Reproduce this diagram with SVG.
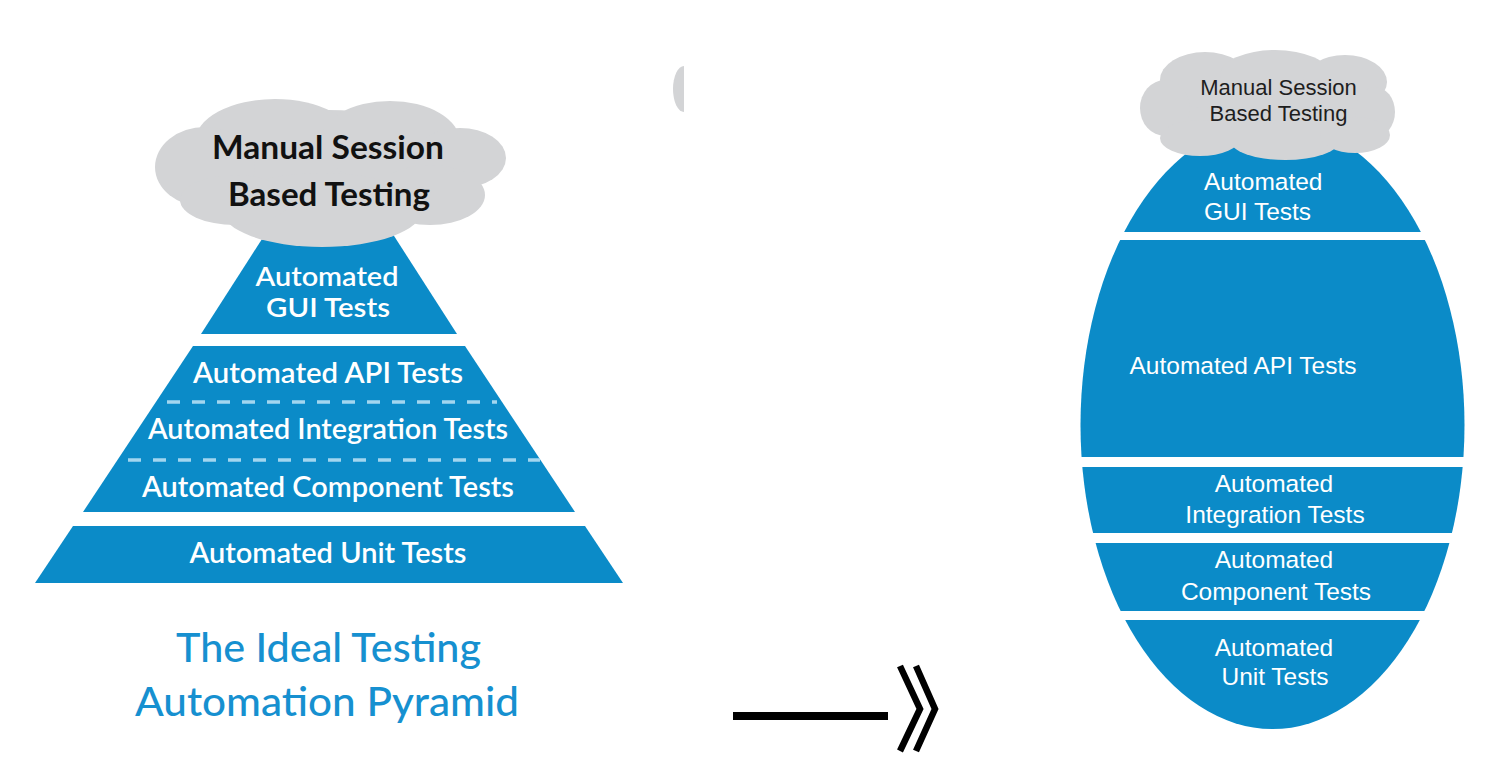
<svg xmlns="http://www.w3.org/2000/svg" width="1494" height="776" viewBox="0 0 1494 776">
<style>
.blue{fill:#0b8bc8}
.cloud{fill:#d3d4d6}
.lt{font-family:Lato,"Open Sans","Liberation Sans",sans-serif;fill:#fff;font-size:29px;font-weight:600;text-anchor:middle}
.lc{font-family:Lato,"Liberation Sans",sans-serif;fill:#111;font-size:32px;font-weight:700;text-anchor:middle}
.title{font-family:Lato,"Open Sans","Liberation Sans",sans-serif;fill:#1690d0;font-size:41px;font-weight:500;text-anchor:middle}
.rt{font-family:"Liberation Sans",Arial,sans-serif;fill:#fff;font-size:24.5px;text-anchor:middle}
.rc{font-family:"Liberation Sans",Arial,sans-serif;fill:#1e1e1e;font-size:22px;text-anchor:middle}
.dash{stroke:#a3d6ef;stroke-width:3.5;stroke-dasharray:13 12;fill:none}
</style>
<defs>
<clipPath id="egg"><ellipse cx="1272.5" cy="425" rx="192" ry="304"/></clipPath>
</defs>

<!-- left pyramid -->
<g id="gui-left">
<polygon class="blue" points="271,225 387,225 457,334 201,334"/>
<text class="lt" x="327" y="286" style="font-size:26px" textLength="143" lengthAdjust="spacingAndGlyphs">Automated</text>
<text class="lt" x="328" y="317" style="font-size:26px" textLength="124" lengthAdjust="spacingAndGlyphs">GUI Tests</text>
</g>
<g id="middle-left">
<polygon class="blue" points="193,346 465,346 575,512 83,512"/>
<line class="dash" x1="167" y1="402" x2="497" y2="402"/>
<line class="dash" x1="128" y1="460" x2="540" y2="460"/>
<text class="lt" x="328" y="383" textLength="270" lengthAdjust="spacingAndGlyphs">Automated API Tests</text>
<text class="lt" x="328" y="439" textLength="360" lengthAdjust="spacingAndGlyphs">Automated Integration Tests</text>
<text class="lt" x="328" y="497" textLength="372" lengthAdjust="spacingAndGlyphs">Automated Component Tests</text>
</g>
<g id="unit-left">
<polygon class="blue" points="73,526 585,526 623,583 35,583"/>
<text class="lt" x="328" y="563" textLength="277" lengthAdjust="spacingAndGlyphs">Automated Unit Tests</text>
</g>
<g id="cloud-left">
<ellipse class="cloud" cx="328" cy="170" rx="140" ry="60"/>
<ellipse class="cloud" cx="275" cy="142" rx="80" ry="43"/>
<ellipse class="cloud" cx="390" cy="142" rx="70" ry="41"/>
<ellipse class="cloud" cx="205" cy="167" rx="50" ry="40"/>
<ellipse class="cloud" cx="460" cy="158" rx="46" ry="30"/>
<ellipse class="cloud" cx="430" cy="195" rx="55" ry="30"/>
<ellipse class="cloud" cx="322" cy="210" rx="100" ry="37"/>
<ellipse class="cloud" cx="235" cy="200" rx="55" ry="25"/>
<text class="lc" x="328" y="159" textLength="232" lengthAdjust="spacingAndGlyphs">Manual Session</text>
<text class="lc" x="329" y="206" textLength="202" lengthAdjust="spacingAndGlyphs">Based Testing</text>
</g>
<g id="title-left">
<text class="title" x="328.5" y="662" textLength="305" lengthAdjust="spacingAndGlyphs">The Ideal Testing</text>
<text class="title" x="327" y="716" textLength="384" lengthAdjust="spacingAndGlyphs">Automation Pyramid</text>
</g>

<!-- partial shape -->
<path class="cloud" d="M684,66 A11,23 0 0 0 684,112 Z"/>

<!-- connector -->
<g id="connectors">
<line x1="733" y1="716" x2="888" y2="716" stroke="#000" stroke-width="8"/>
<polyline points="900,666 920,709 900,751" fill="none" stroke="#000" stroke-width="6.5"/>
<polyline points="916,666 935,709 916,751" fill="none" stroke="#000" stroke-width="6.5"/>
</g>

<!-- right egg -->
<g id="gui-right">
<rect class="blue" x="1070" y="100" width="410" height="132" clip-path="url(#egg)"/>
<text class="rt" x="1204" y="190" style="text-anchor:start">Automated</text>
<text class="rt" x="1204" y="220" style="text-anchor:start">GUI Tests</text>
</g>
<g id="api-right">
<rect class="blue" x="1070" y="240" width="410" height="217" clip-path="url(#egg)"/>
<text class="rt" x="1243" y="374">Automated API Tests</text>
</g>
<g id="integration-right">
<rect class="blue" x="1070" y="467" width="410" height="66" clip-path="url(#egg)"/>
<text class="rt" x="1274" y="492">Automated</text>
<text class="rt" x="1275" y="523">Integration Tests</text>
</g>
<g id="component-right">
<rect class="blue" x="1070" y="543" width="410" height="68" clip-path="url(#egg)"/>
<text class="rt" x="1274" y="568">Automated</text>
<text class="rt" x="1276" y="600">Component Tests</text>
</g>
<g id="unit-right">
<rect class="blue" x="1070" y="620" width="410" height="120" clip-path="url(#egg)"/>
<text class="rt" x="1274" y="656">Automated</text>
<text class="rt" x="1275" y="685">Unit Tests</text>
</g>
<g id="cloud-right">
<ellipse class="cloud" cx="1268" cy="106" rx="115" ry="42"/>
<ellipse class="cloud" cx="1205" cy="80" rx="45" ry="28"/>
<ellipse class="cloud" cx="1275" cy="75" rx="55" ry="25"/>
<ellipse class="cloud" cx="1345" cy="82" rx="42" ry="27"/>
<ellipse class="cloud" cx="1375" cy="112" rx="20" ry="25"/>
<ellipse class="cloud" cx="1165" cy="108" rx="25" ry="28"/>
<ellipse class="cloud" cx="1200" cy="138" rx="40" ry="18"/>
<ellipse class="cloud" cx="1285" cy="140" rx="55" ry="20"/>
<ellipse class="cloud" cx="1355" cy="135" rx="35" ry="18"/>
<text class="rc" x="1278.5" y="95">Manual Session</text>
<text class="rc" x="1278.5" y="121">Based Testing</text>
</g>
</svg>
